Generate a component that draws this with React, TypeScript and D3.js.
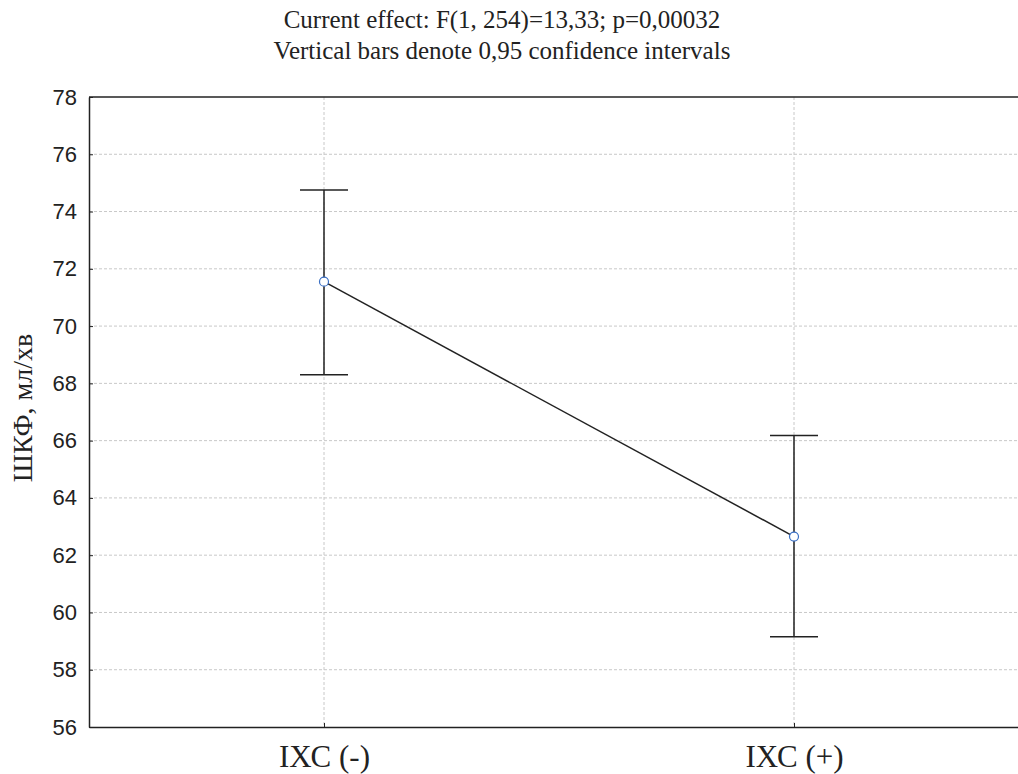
import React, { useRef, useEffect } from 'react';
import * as d3 from 'd3';

const groups = ['IХС (-)', 'IХС (+)'];
const means = [71.55, 62.65];
const lower = [68.3, 59.15];
const upper = [74.75, 66.18];
const yTicks = [56, 58, 60, 62, 64, 66, 68, 70, 72, 74, 76, 78];
const titleLines = [
  'Current effect: F(1, 254)=13,33; p=0,00032',
  'Vertical bars denote 0,95 confidence intervals',
];
const yLabel = 'ШКФ, мл/хв';

const App = () => {
  const ref = useRef<SVGSVGElement>(null);

  useEffect(() => {
    const width = 1018;
    const height = 774;
    const margin = { top: 97, right: -11, bottom: 47, left: 89 };

    const svg = d3.select(ref.current);
    svg.selectAll('*').remove();
    svg.attr('width', width).attr('height', height);

    const x = d3.scalePoint()
      .domain(groups)
      .range([margin.left, width - margin.right])
      .padding(0.5);

    const y = d3.scaleLinear()
      .domain([56, 78])
      .range([height - margin.bottom, margin.top]);

    const data = groups.map((g, i) => ({ g, m: means[i], lo: lower[i], hi: upper[i] }));

    // grid
    svg.append('g')
      .selectAll('line')
      .data(yTicks.slice(1, -1))
      .enter()
      .append('line')
      .attr('x1', margin.left)
      .attr('x2', width)
      .attr('y1', d => y(d))
      .attr('y2', d => y(d))
      .attr('stroke', '#c8c8c8')
      .attr('stroke-dasharray', '3,2');

    svg.append('g')
      .selectAll('line')
      .data(groups)
      .enter()
      .append('line')
      .attr('x1', d => x(d)!)
      .attr('x2', d => x(d)!)
      .attr('y1', margin.top)
      .attr('y2', height - margin.bottom)
      .attr('stroke', '#c8c8c8')
      .attr('stroke-dasharray', '3,2');

    // y axis
    const yAxis = svg.append('g')
      .attr('transform', `translate(${margin.left},0)`)
      .call(d3.axisLeft(y).tickValues(yTicks).tickSizeInner(-4).tickSizeOuter(0).tickPadding(12));
    yAxis.select('.domain').attr('stroke', '#222').attr('stroke-width', 1.5);
    yAxis.selectAll('.tick line').attr('stroke', '#222');
    yAxis.selectAll('text')
      .style('font-family', '"Liberation Sans", Arial, sans-serif')
      .style('font-size', '22px')
      .style('fill', '#222');

    // x axis
    const xAxis = svg.append('g')
      .attr('transform', `translate(0,${height - margin.bottom})`)
      .call(d3.axisBottom(x).tickSizeInner(-4).tickSizeOuter(0).tickPadding(18));
    xAxis.select('.domain').attr('stroke', '#222').attr('stroke-width', 1.5);
    xAxis.selectAll('.tick line').attr('stroke', '#222');
    xAxis.selectAll('text')
      .style('font-family', '"Liberation Serif", "Times New Roman", serif')
      .style('font-size', '31px')
      .style('fill', '#222');

    // top frame
    svg.append('line')
      .attr('x1', margin.left)
      .attr('x2', width)
      .attr('y1', margin.top)
      .attr('y2', margin.top)
      .attr('stroke', '#222')
      .attr('stroke-width', 1.5);

    // error bars
    const eb = svg.append('g').attr('stroke', '#222').attr('stroke-width', 1.5);
    data.forEach(d => {
      const cx = x(d.g)!;
      eb.append('line').attr('x1', cx).attr('x2', cx).attr('y1', y(d.lo)).attr('y2', y(d.hi));
      eb.append('line').attr('x1', cx - 24).attr('x2', cx + 24).attr('y1', y(d.lo)).attr('y2', y(d.lo));
      eb.append('line').attr('x1', cx - 24).attr('x2', cx + 24).attr('y1', y(d.hi)).attr('y2', y(d.hi));
    });

    const line = d3.line<any>()
      .x(d => x(d.g)!)
      .y(d => y(d.m));

    svg.append('path')
      .datum(data)
      .attr('fill', 'none')
      .attr('stroke', '#222')
      .attr('stroke-width', 1.5)
      .attr('d', line);

    svg.selectAll('.dot')
      .data(data)
      .enter()
      .append('circle')
      .attr('cx', d => x(d.g)!)
      .attr('cy', d => y(d.m))
      .attr('r', 4.5)
      .attr('fill', '#fff')
      .attr('stroke', '#3a6fc4')
      .attr('stroke-width', 1.2);

    // title
    svg.append('g')
      .selectAll('text')
      .data(titleLines)
      .enter()
      .append('text')
      .attr('x', 502)
      .attr('y', (d, i) => 28 + i * 31)
      .attr('text-anchor', 'middle')
      .style('font-family', '"Liberation Serif", "Times New Roman", serif')
      .style('font-size', '25px')
      .style('fill', '#222')
      .text(d => d);

    // y label
    svg.append('text')
      .attr('transform', `translate(32,408) rotate(-90)`)
      .attr('text-anchor', 'middle')
      .style('font-family', '"Liberation Serif", "Times New Roman", serif')
      .style('font-size', '28px')
      .style('fill', '#222')
      .text(yLabel);
  }, []);

  return (
    <div style={{ position: 'absolute', left: 0, top: 0 }}>
      <svg ref={ref} style={{ display: 'block' }}></svg>
    </div>
  );
};

export default App;
